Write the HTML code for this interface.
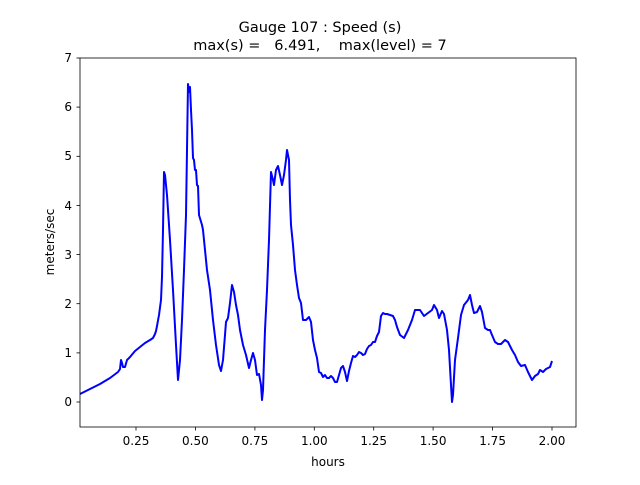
<!DOCTYPE html>
<html><head><style>body{margin:0;background:#fff}svg text{font-family:"DejaVu Sans","Liberation Sans",sans-serif;fill:#000}</style></head><body>
<svg width="640" height="480" xmlns="http://www.w3.org/2000/svg">
<rect width="640" height="480" fill="#fff"/>
<text x="320" y="32" font-size="14.5" text-anchor="middle">Gauge 107 : Speed (s)</text>
<text x="320" y="50" font-size="14.5" text-anchor="middle" xml:space="preserve">max(s) =   6.491,    max(level) = 7</text>
<polyline fill="none" stroke="#0000ff" stroke-width="2" stroke-linejoin="round" points="80,394 90,389 100,384 110,378 118,372 120,369 121,360 122,363 123,367 125,367 127,360 130,357 135,351 140,347 145,343 150,340 153,338 155,334 156,331 157,326 159,315 161,300 162,277 163,230 164,172 165,175 167,195 170,240 173,290 176,345 178,380 180,360 182,320 184,270 186,215 187,150 188,84 189,92 190,87 191,110 192,130 193,158 194,160 195,170 196,170 197,185 198,186 199,215 202,225 203,230 205,250 207,270 210,290 213,320 216,345 219,365 221,371 223,360 225,335 226,322 228,318 230,303 232,285 234,292 236,305 238,315 240,330 243,345 246,355 249,368 251,360 253,353 255,360 257,375 259,374 261,385 262,400 263,390 265,330 267,290 269,240 271,172 273,180 274,185 276,170 278,166 280,175 282,185 284,175 286,160 287,150 289,160 290,200 291,225 293,245 295,270 297,285 299,298 301,303 303,320 306,320 309,317 311,322 313,340 315,350 317,358 319,372 321,373 323,377 325,375 327,378 329,378 331,376 333,378 335,382 337,382 339,375 341,368 343,366 345,372 347,381 349,371 351,363 353,356 355,357 357,355 359,352 361,353 363,355 365,354 367,349 369,346 371,345 373,342 375,342 377,336 379,332 381,316 383,313 385,314 387,314 390,315 393,316 395,320 397,327 400,335 404,338 408,330 412,320 415,310 420,310 424,316 428,313 432,310 434,305 437,310 439,318 442,311 444,314 447,330 449,350 451,385 452,402 453,395 455,360 458,338 461,315 464,305 468,300 470,295 472,305 474,313 477,312 480,306 482,312 485,328 488,330 490,330 492,335 495,342 498,344 501,344 505,340 508,342 512,350 515,355 518,362 521,366 525,365 528,372 532,380 535,376 538,374 540,370 543,372 546,369 550,367 552,361"/>
<rect x="80" y="58" width="496" height="369" fill="none" stroke="#000" stroke-width="0.8"/>
<g stroke="#000" stroke-width="0.8">
<line x1="76.5" y1="58" x2="80" y2="58"/><line x1="76.5" y1="107.1" x2="80" y2="107.1"/><line x1="76.5" y1="156.3" x2="80" y2="156.3"/><line x1="76.5" y1="205.4" x2="80" y2="205.4"/><line x1="76.5" y1="254.6" x2="80" y2="254.6"/><line x1="76.5" y1="303.7" x2="80" y2="303.7"/><line x1="76.5" y1="352.9" x2="80" y2="352.9"/><line x1="76.5" y1="402" x2="80" y2="402"/>
<line x1="136" y1="427" x2="136" y2="430.5"/><line x1="195.4" y1="427" x2="195.4" y2="430.5"/><line x1="254.9" y1="427" x2="254.9" y2="430.5"/><line x1="314.3" y1="427" x2="314.3" y2="430.5"/><line x1="373.7" y1="427" x2="373.7" y2="430.5"/><line x1="433.1" y1="427" x2="433.1" y2="430.5"/><line x1="492.6" y1="427" x2="492.6" y2="430.5"/><line x1="552" y1="427" x2="552" y2="430.5"/>
</g>
<g font-size="12" text-anchor="end">
<text x="72" y="62">7</text><text x="72" y="111">6</text><text x="72" y="160">5</text><text x="72" y="210">4</text><text x="72" y="259">3</text><text x="72" y="308">2</text><text x="72" y="357">1</text><text x="72" y="406">0</text>
</g>
<g font-size="12" text-anchor="middle">
<text x="136" y="445">0.25</text><text x="195.4" y="445">0.50</text><text x="254.9" y="445">0.75</text><text x="314.3" y="445">1.00</text><text x="373.7" y="445">1.25</text><text x="433.1" y="445">1.50</text><text x="492.6" y="445">1.75</text><text x="552" y="445">2.00</text>
<text x="328" y="466">hours</text>
<text transform="translate(54,242) rotate(-90)">meters/sec</text>
</g>
</svg>
</body></html>
